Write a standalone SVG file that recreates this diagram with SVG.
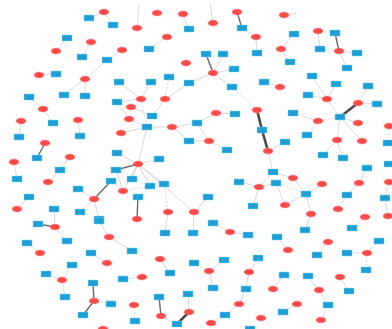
<svg xmlns="http://www.w3.org/2000/svg" width="392" height="329" viewBox="0 0 392 329">
<style>
.e line{stroke:#cfcfcf;stroke-width:0.8}
.e line.d{stroke-dasharray:2 1.5}
.e line.t{stroke:#6a6a6a;stroke-width:1.4}
.e line.T{stroke:#4a4a4a;stroke-width:2.6}
.r ellipse{fill:#ff4a4a;stroke:#ff8a8a;stroke-width:0.5}
.b rect{fill:#1b9fd6;stroke:#7fd4f2;stroke-width:0.5}
</style>
<rect width="392" height="329" fill="#ffffff"/>
<g id="edges" class="e">
<line x1="104" y1="12" x2="89" y2="18"/><line x1="104" y1="12" x2="113" y2="25"/>
<line x1="183" y1="14" x2="189" y2="29"/>
<line x1="213" y1="23" x2="210" y2="3"/><line x1="137" y1="28" x2="139" y2="5"/>
<line class="t" x1="237" y1="12" x2="242" y2="28"/><line x1="242" y1="28" x2="256" y2="37"/><line x1="256" y1="37" x2="257" y2="53"/>
<line x1="167" y1="37" x2="149" y2="49"/>
<line class="t" x1="213" y1="73" x2="206" y2="54"/><line x1="213" y1="73" x2="223" y2="54"/><line x1="213" y1="73" x2="234" y2="69"/><line x1="213" y1="73" x2="189" y2="83"/><line x1="213" y1="73" x2="232" y2="87"/>
<line class="d" x1="232" y1="87" x2="257" y2="110"/>
<line x1="189" y1="83" x2="165" y2="99"/>
<line class="d" x1="165" y1="99" x2="169" y2="77"/><line x1="165" y1="99" x2="152" y2="116"/>
<line x1="141" y1="99" x2="151" y2="82"/><line x1="141" y1="99" x2="119" y2="82"/><line x1="141" y1="99" x2="117" y2="102"/><line class="d" x1="141" y1="99" x2="147" y2="127"/>
<line x1="131" y1="107" x2="152" y2="116"/>
<line x1="117" y1="102" x2="129" y2="119"/><line x1="129" y1="119" x2="147" y2="127"/><line x1="121" y1="133" x2="147" y2="127"/>
<line x1="147" y1="127" x2="172" y2="127"/><line x1="147" y1="127" x2="138" y2="164"/>
<line x1="172" y1="127" x2="197" y2="123"/><line x1="172" y1="127" x2="189" y2="141"/>
<line x1="197" y1="123" x2="216" y2="113"/><line x1="216" y1="113" x2="235" y2="114"/>
<line x1="189" y1="141" x2="209" y2="141"/><line x1="209" y1="141" x2="197" y2="123"/><line x1="209" y1="141" x2="227" y2="150"/>
<line x1="138" y1="164" x2="117" y2="153"/><line x1="138" y1="164" x2="159" y2="159"/><line class="t" x1="138" y1="164" x2="116" y2="170"/><line x1="138" y1="164" x2="132" y2="179"/><line x1="138" y1="164" x2="150" y2="186"/><line x1="138" y1="164" x2="123" y2="191"/><line x1="138" y1="164" x2="194" y2="212"/><line x1="138" y1="164" x2="164" y2="184"/>
<line class="t" x1="111" y1="181" x2="94" y2="199"/><line x1="111" y1="181" x2="123" y2="191"/><line x1="116" y1="170" x2="123" y2="191"/><line class="d" x1="123" y1="191" x2="150" y2="186"/>
<line class="t" x1="138" y1="197" x2="137" y2="219"/>
<line class="d" x1="164" y1="184" x2="168" y2="212"/>
<line x1="194" y1="212" x2="208" y2="197"/>
<line x1="94" y1="199" x2="78" y2="189"/><line x1="94" y1="199" x2="80" y2="212"/><line x1="94" y1="199" x2="99" y2="219"/>
<line x1="122" y1="50" x2="107" y2="60"/><line x1="107" y1="60" x2="85" y2="79"/>
<line x1="85" y1="79" x2="64" y2="95"/><line x1="85" y1="79" x2="85" y2="96"/>
<line x1="67" y1="38" x2="56" y2="51"/><line x1="91" y1="42" x2="82" y2="57"/><line x1="39" y1="75" x2="56" y2="74"/>
<line x1="29" y1="97" x2="43" y2="109"/><line x1="43" y1="109" x2="53" y2="123"/>
<line x1="21" y1="121" x2="19" y2="137"/><line x1="78" y1="120" x2="80" y2="136"/>
<line class="t" x1="45" y1="143" x2="37" y2="158"/>
<line x1="70" y1="157" x2="60" y2="170"/><line x1="60" y1="170" x2="48" y2="182"/>
<line x1="14" y1="162" x2="17" y2="179"/><line x1="29" y1="197" x2="17" y2="209"/>
<line x1="54" y1="209" x2="55" y2="227"/><line class="t" x1="38" y1="224" x2="55" y2="227"/><line x1="55" y1="227" x2="67" y2="241"/>
<line x1="27" y1="243" x2="40" y2="253"/>
<line x1="99" y1="221" x2="109" y2="237"/><line x1="109" y1="237" x2="132" y2="251"/>
<line x1="91" y1="253" x2="107" y2="263"/>
<line x1="62" y1="280" x2="72" y2="265"/><line x1="62" y1="280" x2="46" y2="274"/><line x1="62" y1="280" x2="65" y2="297"/>
<line class="t" x1="94" y1="301" x2="93" y2="283"/><line class="d" x1="94" y1="301" x2="111" y2="304"/><line class="t" x1="94" y1="301" x2="83" y2="315"/>
<line x1="168" y1="212" x2="165" y2="233"/><line x1="194" y1="212" x2="193" y2="233"/>
<line x1="213" y1="223" x2="230" y2="232"/><line x1="230" y1="232" x2="248" y2="235"/>
<line x1="160" y1="259" x2="170" y2="273"/><line x1="142" y1="277" x2="123" y2="279"/>
<line x1="209" y1="271" x2="194" y2="263"/><line x1="209" y1="271" x2="224" y2="260"/><line x1="209" y1="271" x2="213" y2="288"/>
<line x1="258" y1="258" x2="249" y2="272"/><line x1="249" y1="272" x2="246" y2="289"/><line x1="246" y1="289" x2="239" y2="304"/><line x1="239" y1="304" x2="225" y2="315"/><line x1="225" y1="315" x2="211" y2="323"/>
<line class="d" x1="134" y1="305" x2="135" y2="321"/>
<line class="t" x1="159" y1="297" x2="161" y2="316"/><line x1="161" y1="316" x2="177" y2="324"/><line class="T" x1="177" y1="324" x2="189" y2="312"/><line x1="189" y1="312" x2="188" y2="294"/>
<line x1="284" y1="15" x2="297" y2="13"/>
<line x1="294" y1="34" x2="281" y2="49"/><line x1="281" y1="49" x2="290" y2="62"/>
<line class="d" x1="318" y1="31" x2="335" y2="33"/><line x1="318" y1="31" x2="320" y2="49"/><line class="t" x1="335" y1="33" x2="339" y2="51"/><line class="d" x1="320" y1="49" x2="339" y2="51"/><line x1="339" y1="51" x2="357" y2="53"/><line x1="339" y1="51" x2="347" y2="68"/>
<line x1="264" y1="82" x2="280" y2="87"/>
<line x1="327" y1="99" x2="312" y2="76"/><line x1="327" y1="99" x2="336" y2="84"/><line x1="327" y1="99" x2="308" y2="95"/><line x1="327" y1="99" x2="340" y2="117"/>
<line x1="368" y1="86" x2="358" y2="103"/><line x1="358" y1="103" x2="377" y2="104"/><line class="T" x1="358" y1="103" x2="340" y2="117"/>
<line x1="293" y1="113" x2="318" y2="121"/><line class="d" x1="318" y1="121" x2="340" y2="117"/><line x1="318" y1="121" x2="307" y2="135"/>
<line x1="340" y1="117" x2="358" y2="123"/><line x1="340" y1="117" x2="337" y2="140"/><line x1="340" y1="117" x2="362" y2="141"/>
<line x1="337" y1="140" x2="323" y2="155"/><line x1="337" y1="140" x2="343" y2="158"/>
<line class="d" x1="389" y1="126" x2="388" y2="143"/>
<line class="T" x1="257" y1="110" x2="262" y2="130"/><line class="T" x1="262" y1="130" x2="268" y2="151"/>
<line x1="268" y1="151" x2="285" y2="142"/><line x1="268" y1="151" x2="273" y2="172"/>
<line x1="273" y1="172" x2="293" y2="178"/><line x1="273" y1="172" x2="259" y2="187"/><line x1="276" y1="183" x2="259" y2="187"/><line x1="276" y1="183" x2="285" y2="205"/><line class="d" x1="276" y1="183" x2="306" y2="194"/>
<line x1="293" y1="178" x2="306" y2="194"/><line x1="306" y1="194" x2="322" y2="184"/><line x1="306" y1="194" x2="285" y2="205"/><line x1="306" y1="194" x2="311" y2="214"/>
<line x1="239" y1="182" x2="259" y2="187"/><line x1="259" y1="187" x2="253" y2="206"/>
<line x1="367" y1="168" x2="359" y2="183"/><line x1="359" y1="183" x2="347" y2="195"/><line x1="347" y1="195" x2="338" y2="209"/>
<line x1="389" y1="182" x2="385" y2="198"/><line x1="385" y1="198" x2="388" y2="216"/>
<line x1="305" y1="230" x2="311" y2="214"/><line x1="352" y1="228" x2="365" y2="217"/>
<line x1="277" y1="237" x2="288" y2="250"/><line x1="328" y1="242" x2="317" y2="255"/>
<line x1="347" y1="253" x2="367" y2="253"/><line x1="367" y1="253" x2="379" y2="241"/><line class="d" x1="367" y1="253" x2="366" y2="270"/>
<line x1="284" y1="275" x2="273" y2="289"/>
<line x1="308" y1="276" x2="319" y2="290"/><line x1="319" y1="290" x2="328" y2="305"/><line x1="328" y1="305" x2="321" y2="320"/>
<line x1="340" y1="277" x2="349" y2="291"/><line x1="297" y1="304" x2="283" y2="312"/>
</g>
<g class="r">
<g id="R1"><ellipse cx="104" cy="12" rx="5" ry="3"/></g>
<g id="R2"><ellipse cx="157" cy="13" rx="5" ry="3"/></g>
<g id="R3"><ellipse cx="183" cy="14" rx="5" ry="3"/></g>
<g id="R4"><ellipse cx="213" cy="23" rx="5" ry="3"/></g>
<g id="R5"><ellipse cx="137" cy="28" rx="5" ry="3"/></g>
<g id="R6"><ellipse cx="237" cy="12" rx="5" ry="3"/></g>
<g id="R7"><ellipse cx="256" cy="37" rx="5" ry="3"/></g>
<g id="R8"><ellipse cx="167" cy="37" rx="5" ry="3"/></g>
<g id="R9"><ellipse cx="186" cy="63" rx="5" ry="3"/></g>
<g id="R10"><ellipse cx="213" cy="73" rx="5" ry="3"/></g>
<g id="R11"><ellipse cx="257" cy="110" rx="5" ry="3"/></g>
<g id="R12"><ellipse cx="165" cy="99" rx="5" ry="3"/></g>
<g id="R13"><ellipse cx="141" cy="99" rx="5" ry="3"/></g>
<g id="R14"><ellipse cx="131" cy="107" rx="5" ry="3"/></g>
<g id="R15"><ellipse cx="129" cy="119" rx="5" ry="3"/></g>
<g id="R16"><ellipse cx="121" cy="133" rx="5" ry="3"/></g>
<g id="R17"><ellipse cx="172" cy="127" rx="5" ry="3"/></g>
<g id="R18"><ellipse cx="138" cy="164" rx="5" ry="3"/></g>
<g id="R19"><ellipse cx="216" cy="113" rx="5" ry="3"/></g>
<g id="R20"><ellipse cx="209" cy="141" rx="5" ry="3"/></g>
<g id="R21"><ellipse cx="123" cy="191" rx="5" ry="3"/></g>
<g id="R22"><ellipse cx="194" cy="212" rx="5" ry="3"/></g>
<g id="R23"><ellipse cx="94" cy="199" rx="5" ry="3"/></g>
<g id="R24"><ellipse cx="137" cy="219" rx="5" ry="3"/></g>
<g id="R25"><ellipse cx="168" cy="212" rx="5" ry="3"/></g>
<g id="R26"><ellipse cx="122" cy="50" rx="5" ry="3"/></g>
<g id="R27"><ellipse cx="85" cy="79" rx="5" ry="3"/></g>
<g id="R28"><ellipse cx="56" cy="51" rx="5" ry="3"/></g>
<g id="R29"><ellipse cx="91" cy="42" rx="5" ry="3"/></g>
<g id="R30"><ellipse cx="39" cy="75" rx="5" ry="3"/></g>
<g id="R31"><ellipse cx="43" cy="109" rx="5" ry="3"/></g>
<g id="R32"><ellipse cx="21" cy="121" rx="5" ry="3"/></g>
<g id="R33"><ellipse cx="78" cy="120" rx="5" ry="3"/></g>
<g id="R36"><ellipse cx="45" cy="143" rx="5" ry="3"/></g>
<g id="R37"><ellipse cx="70" cy="157" rx="5" ry="3"/></g>
<g id="R38"><ellipse cx="48" cy="182" rx="5" ry="3"/></g>
<g id="R39"><ellipse cx="14" cy="162" rx="5" ry="3"/></g>
<g id="R40"><ellipse cx="17" cy="209" rx="5" ry="3"/></g>
<g id="R41"><ellipse cx="55" cy="227" rx="5" ry="3"/></g>
<g id="R42"><ellipse cx="40" cy="253" rx="5" ry="3"/></g>
<g id="R43"><ellipse cx="109" cy="237" rx="5" ry="3"/></g>
<g id="R44"><ellipse cx="107" cy="263" rx="5" ry="3"/></g>
<g id="R45"><ellipse cx="62" cy="280" rx="5" ry="3"/></g>
<g id="R46"><ellipse cx="94" cy="301" rx="5" ry="3"/></g>
<g id="R47"><ellipse cx="103" cy="329" rx="5" ry="3"/></g>
<g id="R48"><ellipse cx="230" cy="232" rx="5" ry="3"/></g>
<g id="R49"><ellipse cx="160" cy="259" rx="5" ry="3"/></g>
<g id="R50"><ellipse cx="142" cy="277" rx="5" ry="3"/></g>
<g id="R51"><ellipse cx="209" cy="271" rx="5" ry="3"/></g>
<g id="R52"><ellipse cx="249" cy="272" rx="5" ry="3"/></g>
<g id="R53"><ellipse cx="239" cy="304" rx="5" ry="3"/></g>
<g id="R54"><ellipse cx="211" cy="323" rx="5" ry="3"/></g>
<g id="R55"><ellipse cx="134" cy="305" rx="5" ry="3"/></g>
<g id="R56"><ellipse cx="161" cy="316" rx="5" ry="3"/></g>
<g id="R57"><ellipse cx="189" cy="312" rx="5" ry="3"/></g>
<g id="R58"><ellipse cx="261" cy="318" rx="5" ry="3"/></g>
<g id="R59"><ellipse cx="284" cy="15" rx="5" ry="3"/></g>
<g id="R60"><ellipse cx="281" cy="49" rx="5" ry="3"/></g>
<g id="R61"><ellipse cx="318" cy="31" rx="5" ry="3"/></g>
<g id="R62"><ellipse cx="339" cy="51" rx="5" ry="3"/></g>
<g id="R63"><ellipse cx="280" cy="87" rx="5" ry="3"/></g>
<g id="R64"><ellipse cx="327" cy="99" rx="5" ry="3"/></g>
<g id="R65"><ellipse cx="358" cy="103" rx="5" ry="3"/></g>
<g id="R66"><ellipse cx="318" cy="121" rx="5" ry="3"/></g>
<g id="R67"><ellipse cx="358" cy="123" rx="5" ry="3"/></g>
<g id="R68"><ellipse cx="337" cy="140" rx="5" ry="3"/></g>
<g id="R69"><ellipse cx="362" cy="141" rx="5" ry="3"/></g>
<g id="R70"><ellipse cx="389" cy="126" rx="5" ry="3"/></g>
<g id="R71"><ellipse cx="268" cy="151" rx="5" ry="3"/></g>
<g id="R72"><ellipse cx="293" cy="178" rx="5" ry="3"/></g>
<g id="R73"><ellipse cx="259" cy="187" rx="5" ry="3"/></g>
<g id="R74"><ellipse cx="285" cy="205" rx="5" ry="3"/></g>
<g id="R75"><ellipse cx="322" cy="184" rx="5" ry="3"/></g>
<g id="R76"><ellipse cx="311" cy="214" rx="5" ry="3"/></g>
<g id="R78"><ellipse cx="359" cy="183" rx="5" ry="3"/></g>
<g id="R79"><ellipse cx="338" cy="209" rx="5" ry="3"/></g>
<g id="R80"><ellipse cx="389" cy="182" rx="5" ry="3"/></g>
<g id="R81"><ellipse cx="388" cy="216" rx="5" ry="3"/></g>
<g id="R82"><ellipse cx="365" cy="217" rx="5" ry="3"/></g>
<g id="R83"><ellipse cx="288" cy="250" rx="5" ry="3"/></g>
<g id="R84"><ellipse cx="328" cy="242" rx="5" ry="3"/></g>
<g id="R85"><ellipse cx="367" cy="253" rx="5" ry="3"/></g>
<g id="R86"><ellipse cx="273" cy="289" rx="5" ry="3"/></g>
<g id="R87"><ellipse cx="319" cy="290" rx="5" ry="3"/></g>
<g id="R88"><ellipse cx="321" cy="320" rx="5" ry="3"/></g>
<g id="R89"><ellipse cx="340" cy="277" rx="5" ry="3"/></g>
<g id="R90"><ellipse cx="297" cy="304" rx="5" ry="3"/></g>
</g>
<g class="b">
<g id="B1"><rect x="84" y="15" width="10" height="6"/></g>
<g id="B2"><rect x="108" y="22" width="10" height="6"/></g>
<g id="B3"><rect x="184" y="26" width="10" height="6"/></g>
<g id="B4"><rect x="237" y="25" width="10" height="6"/></g>
<g id="B5"><rect x="252" y="50" width="10" height="6"/></g>
<g id="B6"><rect x="144" y="46" width="10" height="6"/></g>
<g id="B7"><rect x="201" y="51" width="10" height="6"/></g>
<g id="B8"><rect x="218" y="51" width="10" height="6"/></g>
<g id="B9"><rect x="229" y="66" width="10" height="6"/></g>
<g id="B10"><rect x="184" y="80" width="10" height="6"/></g>
<g id="B11"><rect x="227" y="84" width="10" height="6"/></g>
<g id="B12"><rect x="164" y="74" width="10" height="6"/></g>
<g id="B13"><rect x="146" y="79" width="10" height="6"/></g>
<g id="B14"><rect x="114" y="79" width="10" height="6"/></g>
<g id="B15"><rect x="112" y="99" width="10" height="6"/></g>
<g id="B16"><rect x="147" y="113" width="10" height="6"/></g>
<g id="B17"><rect x="142" y="124" width="10" height="6"/></g>
<g id="B18"><rect x="192" y="120" width="10" height="6"/></g>
<g id="B19"><rect x="230" y="111" width="10" height="6"/></g>
<g id="B20"><rect x="184" y="138" width="10" height="6"/></g>
<g id="B21"><rect x="222" y="147" width="10" height="6"/></g>
<g id="B22"><rect x="112" y="150" width="10" height="6"/></g>
<g id="B23"><rect x="154" y="156" width="10" height="6"/></g>
<g id="B24"><rect x="111" y="167" width="10" height="6"/></g>
<g id="B25"><rect x="127" y="176" width="10" height="6"/></g>
<g id="B26"><rect x="145" y="183" width="10" height="6"/></g>
<g id="B27"><rect x="159" y="181" width="10" height="6"/></g>
<g id="B28"><rect x="106" y="178" width="10" height="6"/></g>
<g id="B29"><rect x="133" y="194" width="10" height="6"/></g>
<g id="B30"><rect x="203" y="194" width="10" height="6"/></g>
<g id="B31"><rect x="73" y="186" width="10" height="6"/></g>
<g id="B32"><rect x="75" y="209" width="10" height="6"/></g>
<g id="B33"><rect x="94" y="216" width="10" height="6"/></g>
<g id="B35"><rect x="102" y="57" width="10" height="6"/></g>
<g id="B36"><rect x="59" y="92" width="10" height="6"/></g>
<g id="B37"><rect x="80" y="93" width="10" height="6"/></g>
<g id="B38"><rect x="62" y="35" width="10" height="6"/></g>
<g id="B39"><rect x="77" y="54" width="10" height="6"/></g>
<g id="B40"><rect x="51" y="71" width="10" height="6"/></g>
<g id="B42"><rect x="24" y="94" width="10" height="6"/></g>
<g id="B43"><rect x="48" y="120" width="10" height="6"/></g>
<g id="B44"><rect x="14" y="134" width="10" height="6"/></g>
<g id="B45"><rect x="75" y="133" width="10" height="6"/></g>
<g id="B46"><rect x="32" y="155" width="10" height="6"/></g>
<g id="B47"><rect x="55" y="167" width="10" height="6"/></g>
<g id="B48"><rect x="12" y="176" width="10" height="6"/></g>
<g id="B49"><rect x="24" y="194" width="10" height="6"/></g>
<g id="B50"><rect x="49" y="206" width="10" height="6"/></g>
<g id="B51"><rect x="33" y="221" width="10" height="6"/></g>
<g id="B52"><rect x="62" y="238" width="10" height="6"/></g>
<g id="B53"><rect x="22" y="240" width="10" height="6"/></g>
<g id="B54"><rect x="94" y="218" width="10" height="6"/></g>
<g id="B55"><rect x="127" y="248" width="10" height="6"/></g>
<g id="B56"><rect x="86" y="250" width="10" height="6"/></g>
<g id="B57"><rect x="67" y="262" width="10" height="6"/></g>
<g id="B58"><rect x="41" y="271" width="10" height="6"/></g>
<g id="B59"><rect x="60" y="294" width="10" height="6"/></g>
<g id="B60"><rect x="118" y="276" width="10" height="6"/></g>
<g id="B61"><rect x="88" y="280" width="10" height="6"/></g>
<g id="B62"><rect x="106" y="301" width="10" height="6"/></g>
<g id="B63"><rect x="78" y="312" width="10" height="6"/></g>
<g id="B64"><rect x="160" y="230" width="10" height="6"/></g>
<g id="B65"><rect x="188" y="230" width="10" height="6"/></g>
<g id="B66"><rect x="208" y="220" width="10" height="6"/></g>
<g id="B67"><rect x="243" y="232" width="10" height="6"/></g>
<g id="B68"><rect x="165" y="270" width="10" height="6"/></g>
<g id="B69"><rect x="189" y="260" width="10" height="6"/></g>
<g id="B70"><rect x="219" y="257" width="10" height="6"/></g>
<g id="B71"><rect x="208" y="285" width="10" height="6"/></g>
<g id="B72"><rect x="253" y="255" width="10" height="6"/></g>
<g id="B73"><rect x="241" y="286" width="10" height="6"/></g>
<g id="B74"><rect x="220" y="312" width="10" height="6"/></g>
<g id="B75"><rect x="130" y="318" width="10" height="6"/></g>
<g id="B76"><rect x="154" y="294" width="10" height="6"/></g>
<g id="B77"><rect x="172" y="321" width="10" height="6"/></g>
<g id="B78"><rect x="183" y="291" width="10" height="6"/></g>
<g id="B79"><rect x="245" y="326" width="10" height="6"/></g>
<g id="B80"><rect x="289" y="31" width="10" height="6"/></g>
<g id="B81"><rect x="285" y="59" width="10" height="6"/></g>
<g id="B82"><rect x="330" y="30" width="10" height="6"/></g>
<g id="B83"><rect x="315" y="46" width="10" height="6"/></g>
<g id="B84"><rect x="352" y="50" width="10" height="6"/></g>
<g id="B85"><rect x="342" y="65" width="10" height="6"/></g>
<g id="B86"><rect x="259" y="79" width="10" height="6"/></g>
<g id="B87"><rect x="307" y="73" width="10" height="6"/></g>
<g id="B88"><rect x="331" y="81" width="10" height="6"/></g>
<g id="B89"><rect x="303" y="92" width="10" height="6"/></g>
<g id="B90"><rect x="363" y="83" width="10" height="6"/></g>
<g id="B91"><rect x="335" y="114" width="10" height="6"/></g>
<g id="B92"><rect x="372" y="101" width="10" height="6"/></g>
<g id="B93"><rect x="288" y="110" width="10" height="6"/></g>
<g id="B94"><rect x="302" y="132" width="10" height="6"/></g>
<g id="B95"><rect x="318" y="152" width="10" height="6"/></g>
<g id="B96"><rect x="338" y="155" width="10" height="6"/></g>
<g id="B97"><rect x="383" y="140" width="10" height="6"/></g>
<g id="B98"><rect x="257" y="127" width="10" height="6"/></g>
<g id="B99"><rect x="280" y="139" width="10" height="6"/></g>
<g id="B100"><rect x="268" y="169" width="10" height="6"/></g>
<g id="B101"><rect x="271" y="180" width="10" height="6"/></g>
<g id="B102"><rect x="301" y="191" width="10" height="6"/></g>
<g id="B103"><rect x="234" y="179" width="10" height="6"/></g>
<g id="B104"><rect x="248" y="203" width="10" height="6"/></g>
<g id="B105"><rect x="362" y="165" width="10" height="6"/></g>
<g id="B106"><rect x="342" y="192" width="10" height="6"/></g>
<g id="B107"><rect x="384" y="161" width="10" height="6"/></g>
<g id="B108"><rect x="380" y="195" width="10" height="6"/></g>
<g id="B109"><rect x="300" y="227" width="10" height="6"/></g>
<g id="B110"><rect x="347" y="225" width="10" height="6"/></g>
<g id="B111"><rect x="272" y="234" width="10" height="6"/></g>
<g id="B112"><rect x="312" y="252" width="10" height="6"/></g>
<g id="B113"><rect x="342" y="250" width="10" height="6"/></g>
<g id="B114"><rect x="374" y="238" width="10" height="6"/></g>
<g id="B115"><rect x="361" y="267" width="10" height="6"/></g>
<g id="B116"><rect x="279" y="272" width="10" height="6"/></g>
<g id="B117"><rect x="303" y="273" width="10" height="6"/></g>
<g id="B118"><rect x="323" y="302" width="10" height="6"/></g>
<g id="B119"><rect x="344" y="288" width="10" height="6"/></g>
<g id="B120"><rect x="278" y="309" width="10" height="6"/></g>
</g>
</svg>
